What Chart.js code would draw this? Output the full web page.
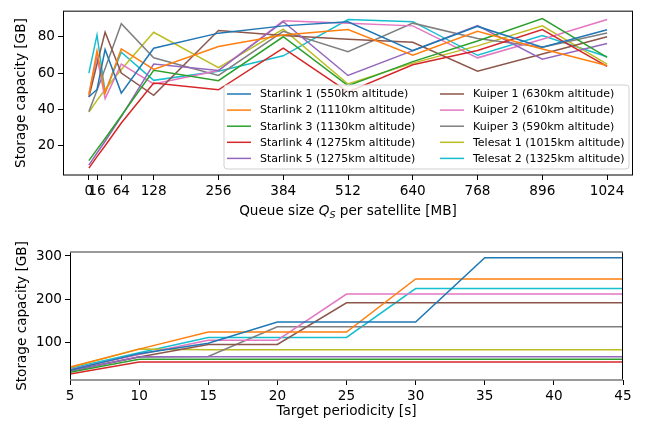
<!DOCTYPE html>
<html>
<head>
<meta charset="utf-8">
<script src="https://cdn.jsdelivr.net/npm/chart.js@4"></script>
<style>
html,body{margin:0;padding:0;background:#fff;}
#wrap{position:relative;width:652px;height:428px;overflow:hidden;background:#fff;}
#c1{position:absolute;left:0;top:0;}
#c2{position:absolute;left:0;top:222px;}
</style>
</head>
<body>
<div id="wrap">
<canvas id="c1" width="652" height="222"></canvas>
<canvas id="c2" width="652" height="206"></canvas>
</div>
<script>
// ---------- DATA ----------
const seriesLabels = [
  "Starlink 1 (550km altitude)", "Starlink 2 (1110km altitude)", "Starlink 3 (1130km altitude)",
  "Starlink 4 (1275km altitude)", "Starlink 5 (1275km altitude)", "Kuiper 1 (630km altitude)",
  "Kuiper 2 (610km altitude)", "Kuiper 3 (590km altitude)", "Telesat 1 (1015km altitude)",
  "Telesat 2 (1325km altitude)"
];
const seriesColors = ["#1f77b4","#ff7f0e","#2ca02c","#d62728","#9467bd","#8c564b","#e377c2","#7f7f7f","#bcbd22","#17becf"];

// Top chart: queue size [MB] vs storage capacity [GB]
const queueSizes = [0, 16, 32, 64, 128, 256, 384, 512, 640, 768, 896, 1024];
const queueTicks = [0, 16, 64, 128, 256, 384, 512, 640, 768, 896, 1024];
const capTicks = [20, 40, 60, 80];
const qStarlink1 = [47, 51, 73, 49, 73.7, 82, 86, 88.3, 72.4, 85.7, 74.2, 83.9];
const qStarlink2 = [48, 72.3, 49, 73.3, 62, 74.6, 81, 84, 69.8, 83, 73.3, 64.2];
const qStarlink3 = [11.8, 18, 24, 36.5, 61.5, 55.8, 80, 53.1, 66.3, 77.7, 90, 68.6];
const qStarlink4 = [7.7, 14, 20, 32.5, 54.5, 50.8, 73.7, 49.6, 64.6, 72.4, 84, 63.7];
const qStarlink5 = [9.3, 16, 22.5, 36, 65, 61.4, 88.3, 58.7, 72.4, 86.2, 67.7, 76.3];
const qKuiper1 = [46.8, 65, 82.5, 60, 47.8, 83.5, 80.7, 78.6, 77, 61, 70.5, 80];
const qKuiper2 = [48.7, 69, 46, 64.9, 54, 61.4, 88.8, 87.4, 86, 68.4, 78.6, 89.5];
const qKuiper3 = [38.8, 50.5, 62.5, 87.2, 68.4, 58.7, 83, 71.8, 87.5, 79, 74.2, 82.1];
const qTelesat1 = [38.5, 45, 51, 62, 82.5, 63, 84.2, 54, 65.5, 75, 86, 64.9];
const qTelesat2 = [60, 81, 49.4, 71.5, 56, 61, 69.5, 89.5, 88.3, 69.8, 80.7, 69];

// Bottom chart: target periodicity [s] vs storage capacity [GB]
const periodicities = [5, 10, 15, 20, 25, 30, 35, 40, 45];
const periodCapTicks = [100, 200, 300];
const pStarlink1 = [36, 74, 98, 147, 147, 147, 296, 296, 296];
const pStarlink2 = [43, 84.5, 124, 124, 124, 247, 247, 247, 247];
const pStarlink3 = [31, 61, 61, 61, 61, 61, 61, 61, 61];
const pStarlink4 = [27, 54.5, 54.5, 54.5, 54.5, 54.5, 54.5, 54.5, 54.5];
const pStarlink5 = [33, 66.8, 66.8, 66.8, 66.8, 66.8, 66.8, 66.8, 66.8];
const pKuiper1 = [34, 66, 95.3, 95.3, 191.5, 191.5, 191.5, 191.5, 191.5];
const pKuiper2 = [37, 72, 105, 105, 212, 212, 212, 212, 212];
const pKuiper3 = [35, 66.5, 67.6, 136, 136, 136, 136, 136, 136];
const pTelesat1 = [42, 84.5, 83, 83, 83, 83, 83, 83, 83];
const pTelesat2 = [40, 76, 111.5, 111.5, 111.5, 224.7, 224.7, 224.7, 224.7];

const topSeries = [qStarlink1,qStarlink2,qStarlink3,qStarlink4,qStarlink5,qKuiper1,qKuiper2,qKuiper3,qTelesat1,qTelesat2];
const bottomSeries = [pStarlink1,pStarlink2,pStarlink3,pStarlink4,pStarlink5,pKuiper1,pKuiper2,pKuiper3,pTelesat1,pTelesat2];

// ---------- STYLE ----------
const FONT = "'DejaVu Sans', sans-serif";
const TICK_SIZE = 13.6;
const LEGEND_SIZE = 11;

function makeDatasets(xs, series) {
  return series.map((vals, i) => ({
    label: seriesLabels[i],
    data: xs.map((x, j) => ({x: x, y: vals[j]})),
    borderColor: seriesColors[i],
    backgroundColor: seriesColors[i],
    borderWidth: 1.5,
    pointRadius: 0,
    tension: 0,
    fill: false
  }));
}

function fixedTicks(values) {
  return function(scale) { scale.ticks = values.map(v => ({value: v})); };
}

function axisCommon(extra) {
  return Object.assign({
    type: 'linear',
    grid: {drawOnChartArea: false, drawTicks: true, tickLength: 5, color: '#000', lineWidth: 1},
    border: {display: false},
    ticks: {color: '#000', font: {family: FONT, size: TICK_SIZE}, padding: 3, autoSkip: false,
      maxRotation: 0, minRotation: 0, callback: v => String(v)}
  }, extra);
}

const framePlugin = {
  id: 'frame',
  afterDatasetsDraw(chart, args, opts) {
    const {left, right, top, bottom} = chart.chartArea;
    const ctx = chart.ctx;
    ctx.save();
    ctx.lineWidth = 1;
    ctx.strokeStyle = '#000';
    ctx.beginPath();
    ctx.moveTo(Math.round(left) + 0.5, top); ctx.lineTo(Math.round(left) + 0.5, bottom);
    ctx.moveTo(Math.round(right) - 0.5, top); ctx.lineTo(Math.round(right) - 0.5, bottom);
    ctx.stroke();
    ctx.strokeStyle = opts.hColor || '#000';
    ctx.lineWidth = opts.hWidth || 1;
    ctx.beginPath();
    ctx.moveTo(left, top); ctx.lineTo(right, top);
    ctx.moveTo(left, bottom); ctx.lineTo(right, bottom);
    ctx.stroke();
    ctx.restore();
  }
};

const titlesPlugin = {
  id: 'titles',
  afterDraw(chart, args, opts) {
    const ctx = chart.ctx;
    const {top, bottom} = chart.chartArea;
    ctx.save();
    ctx.fillStyle = '#000';
    ctx.font = TICK_SIZE + 'px ' + FONT;
    ctx.textAlign = 'center';
    ctx.textBaseline = 'middle';
    ctx.translate(opts.yTitleX, (top + bottom) / 2);
    ctx.rotate(-Math.PI / 2);
    ctx.fillText(opts.yTitle, 0, 0);
    ctx.restore();
    ctx.save();
    ctx.fillStyle = '#000';
    ctx.textBaseline = 'alphabetic';
    ctx.textAlign = 'left';
    const parts = opts.xParts;
    let total = 0;
    const widths = parts.map(p => {
      ctx.font = (p.italic ? 'italic ' : '') + (TICK_SIZE * (p.scale || 1)) + 'px ' + FONT;
      const w = ctx.measureText(p.text).width;
      total += w;
      return w;
    });
    const {left, right} = chart.chartArea;
    let x = (left + right) / 2 - total / 2;
    parts.forEach((p, i) => {
      ctx.font = (p.italic ? 'italic ' : '') + (TICK_SIZE * (p.scale || 1)) + 'px ' + FONT;
      ctx.fillText(p.text, x, opts.xTitleY + (p.dy || 0));
      x += widths[i];
    });
    ctx.restore();
  }
};

const legendPlugin = {
  id: 'boxLegend',
  afterDatasetsDraw(chart, args, opts) {
    if (!opts.show) return;
    const ctx = chart.ctx;
    const ds = chart.data.datasets;
    ctx.save();
    const bx = opts.x, by = opts.y, bw = opts.w, bh = opts.h, r = 3;
    ctx.beginPath();
    ctx.moveTo(bx + r, by);
    ctx.lineTo(bx + bw - r, by); ctx.quadraticCurveTo(bx + bw, by, bx + bw, by + r);
    ctx.lineTo(bx + bw, by + bh - r); ctx.quadraticCurveTo(bx + bw, by + bh, bx + bw - r, by + bh);
    ctx.lineTo(bx + r, by + bh); ctx.quadraticCurveTo(bx, by + bh, bx, by + bh - r);
    ctx.lineTo(bx, by + r); ctx.quadraticCurveTo(bx, by, bx + r, by);
    ctx.closePath();
    ctx.fillStyle = 'rgba(255,255,255,0.8)';
    ctx.fill();
    ctx.strokeStyle = '#d0d0d0';
    ctx.lineWidth = 1;
    ctx.stroke();
    ctx.font = LEGEND_SIZE + 'px ' + FONT;
    ctx.textBaseline = 'middle';
    ctx.textAlign = 'left';
    ds.forEach((d, i) => {
      const col = Math.floor(i / 5), row = i % 5;
      const hx = opts.colX[col];
      const ry = opts.row0 + row * opts.rowStep;
      ctx.strokeStyle = d.borderColor;
      ctx.lineWidth = 1.5;
      ctx.beginPath();
      ctx.moveTo(hx, ry); ctx.lineTo(hx + 24, ry);
      ctx.stroke();
      ctx.fillStyle = '#000';
      ctx.fillText(d.label, hx + 33, ry + 0.5);
    });
    ctx.restore();
  }
};

// ---------- TOP CHART ----------
new Chart(document.getElementById('c1'), {
  type: 'line',
  data: {datasets: makeDatasets(queueSizes, topSeries)},
  plugins: [framePlugin, legendPlugin, titlesPlugin],
  options: {
    responsive: false, animation: false, devicePixelRatio: 1,
    layout: {padding: {top: 4, right: 19, left: 0, bottom: 0}},
    scales: {
      x: axisCommon({min: -51.2, max: 1075.2, afterBuildTicks: fixedTicks(queueTicks),
        afterFit: s => { s.height = 47; }}),
      y: axisCommon({min: 3.9, max: 94.1, afterBuildTicks: fixedTicks(capTicks),
        afterFit: s => { s.width = 63; }})
    },
    plugins: {
      legend: {display: false}, tooltip: {enabled: false},
      frame: {hColor: '#000', hWidth: 1},
      boxLegend: {show: true, x: 224, y: 85, w: 405, h: 84, colX: [227, 440], row0: 94, rowStep: 16.1},
      titles: {
        yTitle: 'Storage capacity [GB]', yTitleX: 21,
        xTitleY: 215,
        xParts: [
          {text: 'Queue size '},
          {text: 'Q', italic: true},
          {text: 'S', italic: true, scale: 0.7, dy: 3},
          {text: ' per satellite [MB]'}
        ]
      }
    }
  }
});

// ---------- BOTTOM CHART ----------
new Chart(document.getElementById('c2'), {
  type: 'line',
  data: {datasets: makeDatasets(periodicities, bottomSeries)},
  plugins: [framePlugin, legendPlugin, titlesPlugin],
  options: {
    responsive: false, animation: false, devicePixelRatio: 1,
    layout: {padding: {top: 30, right: 29, left: 0, bottom: 0}},
    scales: {
      x: axisCommon({min: 5, max: 45, afterBuildTicks: fixedTicks(periodicities),
        afterFit: s => { s.height = 48; }}),
      y: axisCommon({min: 13, max: 309.2, afterBuildTicks: fixedTicks(periodCapTicks),
        afterFit: s => { s.width = 70; }})
    },
    plugins: {
      legend: {display: false}, tooltip: {enabled: false},
      frame: {hColor: '#7a7a7a', hWidth: 1.6},
      boxLegend: {show: false},
      titles: {
        yTitle: 'Storage capacity [GB]', yTitleX: 22,
        xTitleY: 193,
        xParts: [{text: 'Target periodicity [s]'}]
      }
    }
  }
});
</script>
</body>
</html>
